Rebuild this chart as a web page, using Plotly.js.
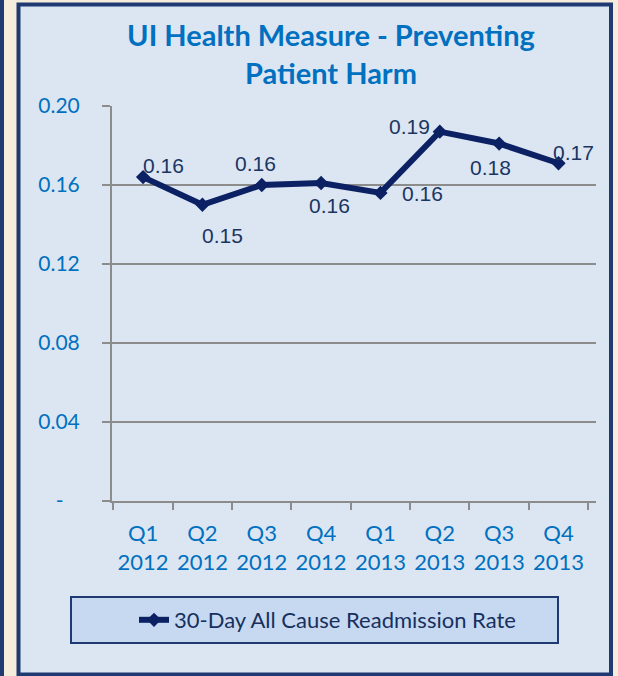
<!DOCTYPE html>
<html>
<head>
<meta charset="utf-8">
<script src="https://cdn.plot.ly/plotly-3.0.1.min.js"></script>
<style>
html,body{margin:0;padding:0;background:#f6ecdb;}
#chart{width:618px;height:676px;}
</style>
</head>
<body>
<div id="chart"></div>
<script>
const categories = ["Q1<br>2012","Q2<br>2012","Q3<br>2012","Q4<br>2012","Q1<br>2013","Q2<br>2013","Q3<br>2013","Q4<br>2013"];
const readmissionRate = [0.164, 0.150, 0.160, 0.161, 0.156, 0.187, 0.181, 0.171];
const yTickVals = [0, 0.04, 0.08, 0.12, 0.16, 0.20];
const yTickText = ["-\u00a0\u00a0\u00a0", "0.04", "0.08", "0.12", "0.16", "0.20"];
const seriesName = "30-Day All Cause Readmission Rate";
const chartTitle = "UI Health Measure - Preventing<br>Patient Harm";
// label offsets in pixels (style only)
const labelDx = [20, 20, -6, 8, 42, -30, -9, 15];
const labelDy = [12, -31, 22, -22, -1, 5, -24, 11];

const navy = "#1f3a73";
const lineColor = "#0b2163";
const blue = "#0070c0";
const grid = "#8c8c8c";
const font = "Lato, 'Open Sans', sans-serif";

const trace = {
  x: categories,
  y: readmissionRate,
  name: seriesName,
  type: "scatter",
  mode: "lines+markers",
  line: {color: lineColor, width: 6},
  marker: {symbol: "diamond", size: 11, color: lineColor},
  cliponaxis: false,
  hoverinfo: "skip"
};

const annotations = readmissionRate.map((v, i) => ({
  x: categories[i], y: v, xref: "x", yref: "y",
  text: v.toFixed(2), showarrow: false,
  xanchor: "center", yanchor: "middle",
  xshift: labelDx[i], yshift: labelDy[i],
  font: {family: "'Liberation Sans', Arial, sans-serif", size: 21, color: "#1b3562"}
}));

const layout = {
  width: 618, height: 676,
  margin: {l: 112, r: 22, t: 106, b: 175},
  paper_bgcolor: "#f6ecdb",
  plot_bgcolor: "rgba(0,0,0,0)",
  title: {
    text: chartTitle,
    font: {family: font, size: 29, color: blue, weight: "bold"},
    x: 331/618, xanchor: "center", xref: "container",
    y: 1 - 46/676, yanchor: "top", yref: "container"
  },
  xaxis: {
    type: "category",
    tickson: "boundaries",
    ticks: "outside", ticklen: 7, tickwidth: 2, tickcolor: grid,
    showline: true, linecolor: grid, linewidth: 2,
    showgrid: false, zeroline: false,
    tickangle: 0,
    tickfont: {family: font, size: 22, color: blue},
    ticklabelstandoff: 12,
    fixedrange: true
  },
  yaxis: {
    range: [0, 0.2],
    tickvals: yTickVals, ticktext: yTickText,
    ticks: "outside", ticklen: 8, tickwidth: 2, tickcolor: grid,
    showline: true, linecolor: grid, linewidth: 2,
    showgrid: true, gridcolor: grid, gridwidth: 2,
    zeroline: false,
    tickfont: {family: font, size: 21, color: blue},
    ticklabelstandoff: 18,
    fixedrange: true
  },
  showlegend: true,
  legend: {
    orientation: "h",
    x: (134-112)/484, xanchor: "left",
    y: (501-620)/395, yanchor: "middle",
    bgcolor: "rgba(0,0,0,0)",
    font: {family: font, size: 22, color: "#17305e"}
  },
  annotations: annotations,
  shapes: [
    {type: "line", xref: "paper", yref: "paper",
     x0: (2-112)/484, x1: (2-112)/484, y0: -0.5, y1: 1.3,
     line: {color: navy, width: 4}, layer: "below"},
    {type: "rect", xref: "paper", yref: "paper",
     x0: (18.5-112)/484, x1: (611-112)/484, y0: (501-674.5)/395, y1: (501-4.5)/395,
     fillcolor: "#dce6f2", line: {color: navy, width: 4}, layer: "below"},
    {type: "rect", xref: "paper", yref: "paper",
     x0: (71-112)/484, x1: (558-112)/484, y0: (501-643)/395, y1: (501-597)/395,
     fillcolor: "#c6d9f1", line: {color: navy, width: 2}, layer: "below"}
  ]
};

Plotly.newPlot("chart", [trace], layout, {displayModeBar: false, staticPlot: true});
</script>
</body>
</html>
